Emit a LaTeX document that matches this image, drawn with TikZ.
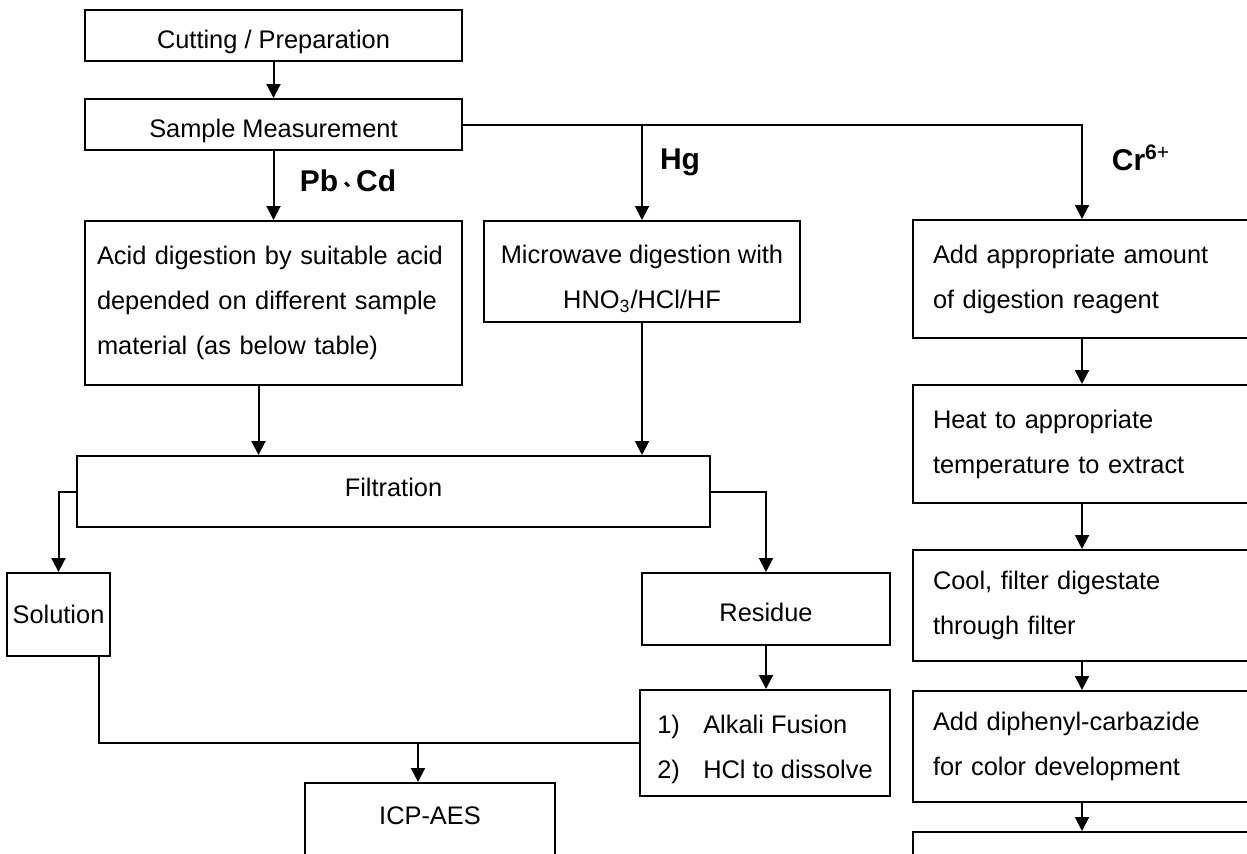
\documentclass[tikz,border=0pt]{standalone}
\usepackage{fontspec}
\setmainfont{Liberation Sans}
\newfontfamily\cjk{Noto Sans CJK TC}
\usetikzlibrary{arrows.meta}
\newcommand{\shiftdown}[2]{\raisebox{-#1}[\height][\depth]{#2}}
\newcommand{\lines}[2]{\begin{tabular}{@{}#1@{}}#2\end{tabular}}
\begin{document}
\begin{tikzpicture}[x=0.5pt,y=-0.5pt,
  box/.style={draw, line width=1pt, inner sep=0pt, font=\fontsize{12.7}{22.5}\selectfont},
  arr/.style={line width=1pt, -{Triangle[width=7pt,length=7pt]}},
  ln/.style={line width=1pt},
  lbl/.style={font=\fontsize{15}{18}\selectfont\bfseries}]
\useasboundingbox (0,0) rectangle (1247,853);
\clip (0,0) rectangle (1247,853);
% left column
\node[box, minimum width=188.5pt, minimum height=25.5pt] (cut) at (273.5,35.5) {\shiftdown{3pt}{Cutting / Preparation}};
\node[box, minimum width=188.5pt, minimum height=25.5pt] (sm) at (273.5,124.5) {\shiftdown{3pt}{Sample Measurement}};
\node[box, minimum width=188.5pt, minimum height=82pt, align=left, text width=176.5pt] (acid) at (273.5,303)
  {Acid digestion by suitable acid\\depended on different sample\\material (as below table)};
\node[box, minimum width=158pt, minimum height=50.5pt] (mw) at (642,271.5)
  {\shiftdown{2.5pt}{\lines{c}{Microwave digestion with\\HNO\textsubscript{3}/HCl/HF}}};
% Cr column
\node[box, minimum width=169pt, minimum height=59pt, align=left, text width=149pt] (cr1) at (1082,279)
  {Add appropriate amount\\of digestion reagent};
\node[box, minimum width=169pt, minimum height=59pt, align=left, text width=149pt] (cr2) at (1082,444)
  {Heat to appropriate\\temperature to extract};
\node[box, minimum width=169pt, minimum height=55.5pt, align=left, text width=149pt] (cr3) at (1082,605.5)
  {Cool, filter digestate\\through filter};
\node[box, minimum width=169pt, minimum height=55.5pt, align=left, text width=149pt] (cr4) at (1082,746.5)
  {Add diphenyl-carbazide\\for color development};
\node[box, minimum width=169pt, minimum height=48pt] (cr5) at (1082,880) {};
% filtration part
\node[box, minimum width=316.5pt, minimum height=35.5pt] (filt) at (393.5,491.5) {\shiftdown{-2pt}{Filtration}};
\node[box, minimum width=51.5pt, minimum height=41.5pt] (sol) at (58.5,614.5) {Solution};
\node[box, minimum width=124pt, minimum height=36pt] (res) at (766,609) {\shiftdown{1.5pt}{Residue}};
\node[box, minimum width=125pt, minimum height=53pt] (alk) at (765,743)
  {\shiftdown{2pt}{\lines{l}{\makebox[23pt][l]{1)}Alkali Fusion\\\makebox[23pt][l]{2)}HCl to dissolve}}};
\node[box, minimum width=125pt, minimum height=58.5pt, align=center] (icp) at (430,841.5) {ICP-AES\\[3pt]\mbox{}};
% labels
\node[lbl] (pbcd) at (348,181) {Pb{\cjk\fontsize{9}{9}\selectfont 、}Cd};
\node[lbl] (hg) at (680,162) {Hg};
\node[lbl] (cr) at (1141,158) {Cr\textsuperscript{6\textmd{+}}};
% connectors
\draw[arr] (cut) -- (sm);
\draw[arr] (sm) -- (acid);
\draw[arr] (sm.east) -| (cr1.north);
\draw[arr] (sm.east -| mw.north) -- (mw.north);
\draw[arr] ([xshift=-7.5pt]acid.south) -- ([xshift=-7.5pt]acid.south |- filt.north);
\draw[arr] (mw.south) -- (mw.south |- filt.north);
\draw[arr] (filt.west) -| (sol.north);
\draw[arr] (filt.east) -| (res.north);
\draw[arr] (res.south) -- (res.south |- alk.north);
\coordinate (sx) at (99,743);
\coordinate (jn) at (418,743);
\draw[ln] (sol.south -| sx) -- (sx) -- (alk.west);
\draw[arr] (jn) -- (jn |- icp.north);
\draw[arr] (cr1) -- (cr2);
\draw[arr] (cr2) -- (cr3);
\draw[arr] (cr3) -- (cr4);
\draw[arr] (cr4) -- (cr5);
\end{tikzpicture}
\end{document}
